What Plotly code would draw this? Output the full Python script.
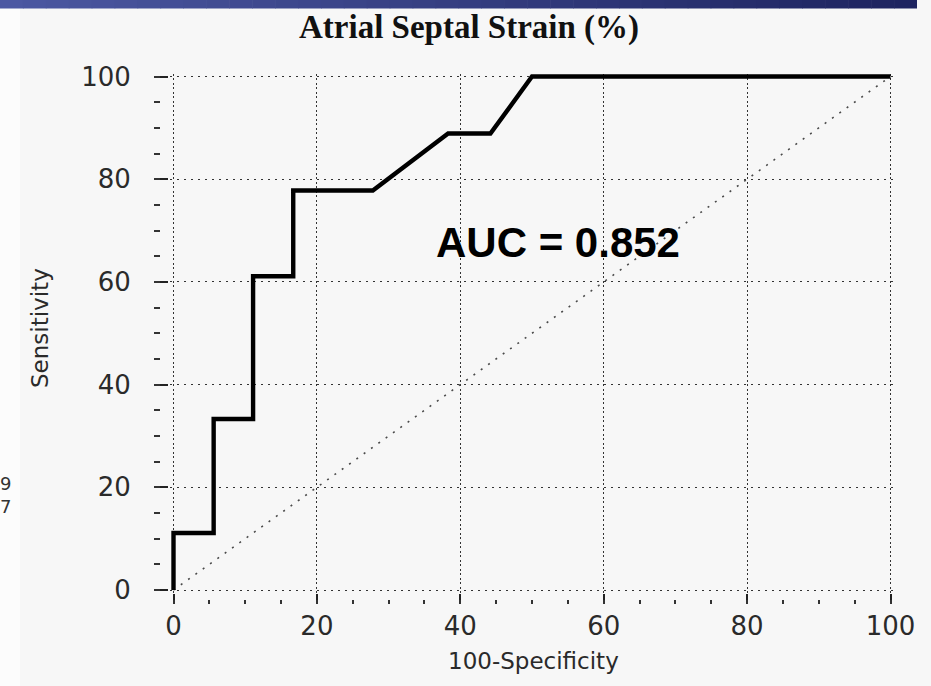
import plotly.graph_objects as go

# ---- data ----
fpr = [0, 0, 5.6, 5.6, 11.1, 11.1, 16.7, 16.7, 27.8, 38.3, 44.2, 50.0, 100]
tpr = [0, 11.1, 11.1, 33.3, 33.3, 61.1, 61.1, 77.8, 77.8, 88.9, 88.9, 100, 100]
ref_x = [0, 100]
ref_y = [0, 100]
tick_vals = [0, 20, 40, 60, 80, 100]
tick_text = ["0", "20", "40", "60", "80", "100"]
title_text = "Atrial Septal Strain (%)"
x_title = "100-Specificity"
y_title = "Sensitivity"
auc_text = "AUC = 0.852"
edge_texts = ["9", "7"]

# ---- layout geometry (px) ----
W, H = 931, 686
ML, MR, MT, MB = 150, 34, 72, 76
PW = W - ML - MR
PH = H - MT - MB


def fx(px):
    return (px - ML) / PW


def fy(py):
    return (H - MB - py) / PH


fig = go.Figure()

fig.add_trace(go.Scatter(x=ref_x, y=ref_y, mode="lines",
                         line=dict(color="#4a4a4a", width=1.6, dash="2px,7px"),
                         hoverinfo="skip", showlegend=False, cliponaxis=False))
fig.add_trace(go.Scatter(x=fpr, y=tpr, mode="lines",
                         line=dict(color="#000000", width=4.4),
                         showlegend=False, cliponaxis=False))
# carrier trace for the minor-tick overlay axes
fig.add_trace(go.Scatter(x=[None], y=[None], xaxis="x2", yaxis="y2",
                         showlegend=False, hoverinfo="skip"))

tick_font = dict(family="DejaVu Sans", size=26, color="#2a2a2a")

# pixel anchors of the data frame (0..100 on both axes)
X0PX, X1PX = 173.5, 890.5
Y0PX, Y1PX = 590.0, 76.5
eps = 0.5  # small padding so the edge grid lines are drawn
ppx = (X1PX - X0PX) / (tick_vals[-1] - tick_vals[0])
ppy = (Y0PX - Y1PX) / (tick_vals[-1] - tick_vals[0])
rng = [tick_vals[0] - eps, tick_vals[-1] + eps]
x_dom = [fx(X0PX - eps * ppx), fx(X1PX + eps * ppx)]
y_dom = [fy(Y0PX + eps * ppy), fy(Y1PX - eps * ppy)]

fig.update_layout(
    width=W, height=H,
    margin=dict(l=ML, r=MR, t=MT, b=MB),
    paper_bgcolor="#f7f7f7", plot_bgcolor="#f7f7f7",
    xaxis=dict(domain=x_dom, range=rng, anchor="free", position=fy(593),
               tickmode="array", tickvals=tick_vals, ticktext=tick_text,
               ticks="outside", ticklen=10, tickwidth=2, tickcolor="#222",
               tickfont=tick_font, fixedrange=True,
               showgrid=True, gridcolor="#333333", gridwidth=1.4,
               griddash="2px,2.5px", zeroline=False, showline=False),
    yaxis=dict(domain=y_dom, range=rng, anchor="free", position=fx(168),
               tickmode="array", tickvals=tick_vals, ticktext=tick_text,
               ticks="outside", ticklen=14, tickwidth=2, tickcolor="#222",
               tickfont=tick_font, ticklabelstandoff=18, fixedrange=True,
               showgrid=True, gridcolor="#333333", gridwidth=1.4,
               griddash="2px,5px", zeroline=False, showline=False),
    xaxis2=dict(overlaying="x", range=rng, anchor="free", position=fy(599),
                tick0=0, dtick=5, ticks="outside", ticklen=4, tickwidth=2,
                tickcolor="#333", showticklabels=False, showgrid=False,
                zeroline=False, showline=False, fixedrange=True),
    yaxis2=dict(overlaying="y", range=rng, anchor="free", position=fx(160),
                tick0=0, dtick=5, ticks="outside", ticklen=6, tickwidth=2,
                tickcolor="#333", showticklabels=False, showgrid=False,
                zeroline=False, showline=False, fixedrange=True),
)

# top blue gradient bar
n = 40
x0, x1 = 0, 917
c0 = (76, 88, 162)
c1 = (30, 36, 96)
for i in range(n):
    t = i / (n - 1)
    col = "rgb(%d,%d,%d)" % tuple(int(c0[k] + (c1[k] - c0[k]) * t) for k in range(3))
    a = x0 + (x1 - x0) * i / n
    b = x0 + (x1 - x0) * (i + 1) / n + 0.6
    fig.add_shape(type="rect", xref="paper", yref="paper",
                  x0=fx(a), x1=fx(min(b, x1)), y0=fy(8.5), y1=fy(0),
                  fillcolor=col, line=dict(width=0), layer="above")
# lighter left strip
fig.add_shape(type="rect", xref="paper", yref="paper", x0=fx(0), x1=fx(20),
              y0=fy(H), y1=fy(8.5), fillcolor="#fcfcfc", line=dict(width=0),
              layer="below")

# title
fig.add_annotation(text="<b>%s</b>" % title_text, xref="paper", yref="paper",
                   x=fx(469), y=fy(27), xanchor="center", yanchor="middle",
                   showarrow=False,
                   font=dict(family="Liberation Serif", size=33, color="#111"))
# axis titles
fig.add_annotation(text=x_title, xref="paper", yref="paper",
                   x=fx(533), y=fy(661), xanchor="center", yanchor="middle",
                   showarrow=False,
                   font=dict(family="DejaVu Sans", size=23, color="#2a2a2a"))
fig.add_annotation(text=y_title, xref="paper", yref="paper", textangle=-90,
                   x=fx(40), y=fy(328), xanchor="center", yanchor="middle",
                   showarrow=False,
                   font=dict(family="DejaVu Sans", size=23, color="#2a2a2a"))
# AUC label
fig.add_annotation(text="<b>%s</b>" % auc_text, x=53.6, y=67.6,
                   xanchor="center", yanchor="middle", showarrow=False,
                   font=dict(family="Liberation Sans", size=42, color="#000"))
# text at left edge
for txt, py in zip(edge_texts, [483, 506]):
    fig.add_annotation(text=txt, xref="paper", yref="paper",
                       x=fx(13), y=fy(py), xanchor="right", yanchor="middle",
                       showarrow=False,
                       font=dict(family="DejaVu Sans", size=18, color="#333"))

fig.write_html("out.html", config={"displayModeBar": False},
               post_script="document.body.style.margin='0';")
